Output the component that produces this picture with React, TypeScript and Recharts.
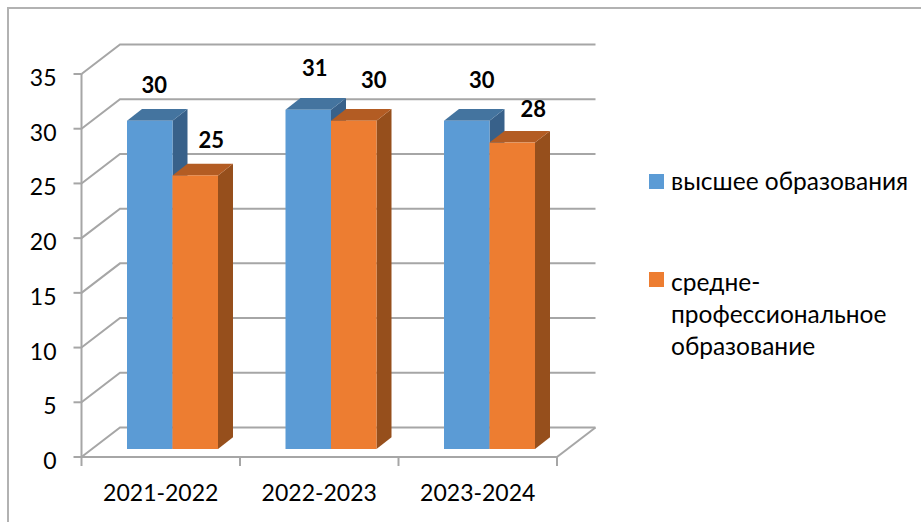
import React from 'react';
import { BarChart, Bar, XAxis, YAxis, CartesianGrid, Legend, LabelList } from 'recharts';

const years = ['2021-2022', '2022-2023', '2023-2024'];
const higherEd = [30, 31, 30];
const vocationalEd = [25, 30, 28];
const yTicks = [0, 5, 10, 15, 20, 25, 30, 35];

const data = years.map((year, i) => ({ year, higher: higherEd[i], vocational: vocationalEd[i] }));

const FONT = 'Lato, "Noto Sans", sans-serif';
const GREY = '#a6a6a6';

// fake 3d: how far the walls go back, and where the bars stand on the floor
const WALL_DX = 38.5;
const WALL_DY = 29.5;
const BAR_SHIFT_X = 11.5;
const BAR_SHIFT_Y = -8;
const BAR_DX = 15;
const BAR_DY = 11.7;

// labels in the original are not centred on the bars
const higherLabelNudge = [[4.5, 36], [6.5, 42], [15, 41]];
const vocationalLabelNudge = [[16, 36], [20, 41], [21, 34]];

const makeBar = (front: string, top: string, side: string) => (props: any) => {
  const x = props.x + BAR_SHIFT_X;
  const y = props.y + BAR_SHIFT_Y;
  const { width, height } = props;
  const r = x + width;
  const b = y + height;
  return (
    <g>
      <polygon points={`${r},${y} ${r + BAR_DX},${y - BAR_DY} ${r + BAR_DX},${b - BAR_DY} ${r},${b}`} fill={side} />
      <polygon points={`${x},${y} ${x + BAR_DX},${y - BAR_DY} ${r + BAR_DX},${y - BAR_DY} ${r},${y}`} fill={top} />
      <rect x={x} y={y} width={width} height={height} fill={front} />
    </g>
  );
};

const makeLabel = (nudge: number[][]) => (props: any) => {
  const { x, y, width, value, index } = props;
  const [dx, rise] = nudge[index];
  return (
    <text
      x={x + BAR_SHIFT_X + width / 2 + dx}
      y={y + BAR_SHIFT_Y - rise}
      textAnchor="middle"
      dominantBaseline="central"
      fontFamily={FONT}
      fontWeight={700}
      fontSize={22}
      fill="#000"
    >
      {value}
    </text>
  );
};

const WallLine = (props: any) => {
  const { x1, x2, y1 } = props;
  const isFloor = y1 > 450;
  return (
    <g fill="none" stroke={GREY} strokeWidth={2}>
      <polyline points={`${x1},${y1} ${x1 + WALL_DX},${y1 - WALL_DY} ${x2 + WALL_DX},${y1 - WALL_DY}`} />
      {isFloor && <line x1={x2} y1={y1} x2={x2 + WALL_DX} y2={y1 - WALL_DY} />}
    </g>
  );
};

const YearTick = (props: any) => {
  const { x, y, payload, index, width } = props;
  const band = width / years.length;
  const left = x - band / 2;
  return (
    <g>
      <line x1={left} y1={457} x2={left} y2={466} stroke={GREY} strokeWidth={2} />
      {index === years.length - 1 && (
        <line x1={left + band} y1={457} x2={left + band} y2={466} stroke={GREY} strokeWidth={2} />
      )}
      <text x={x} y={501} textAnchor="middle" fontFamily={FONT} fontSize={23} fill="#000">
        {payload.value}
      </text>
    </g>
  );
};

const ValueTick = (props: any) => (
  <text x={props.x} y={props.y + 3} textAnchor="end" dominantBaseline="central" fontFamily={FONT} fontSize={23} fill="#000">
    {props.payload.value}
  </text>
);

const LegendBox = (props: any) => (
  <div style={{ fontFamily: FONT, fontSize: 24.5, lineHeight: '32px', color: '#000' }}>
    {props.payload.map((entry: any, i: number) => (
      <div key={entry.value} style={{ position: 'relative', paddingLeft: 22, marginBottom: i === 0 ? 69 : 0 }}>
        <span style={{ position: 'absolute', left: 0, top: i === 0 ? 9 : 6, width: 15, height: 15, background: entry.color }} />
        {entry.value}
      </div>
    ))}
  </div>
);

export default function App() {
  return (
    <div style={{ position: 'absolute', left: 0, top: 0, width: 921, height: 522, overflow: 'hidden', background: '#fff' }}>
      <div style={{ position: 'absolute', left: 7, top: 7, right: 0, bottom: 0, borderLeft: '2px solid #b2b2b2', borderTop: '2px solid #b2b2b2' }} />
      <div style={{ position: 'absolute', left: 0, top: 0 }}>
        <BarChart
          width={921}
          height={522}
          data={data}
          barSize={45.5}
          barGap={0}
          margin={{ top: 74, right: 364, bottom: 0, left: 0 }}
        >
          <CartesianGrid vertical={false} horizontal={(p: any) => <WallLine key={p.key ?? p.y1} {...p} />} />
          <XAxis
            dataKey="year"
            axisLine={{ stroke: GREY, strokeWidth: 2 }}
            tickLine={false}
            tick={YearTick}
            interval={0}
            height={65}
          />
          <YAxis
            domain={[0, 35]}
            ticks={yTicks}
            width={81.5}
            axisLine={{ stroke: GREY, strokeWidth: 2 }}
            tickLine={{ stroke: GREY, strokeWidth: 2 }}
            tickSize={8}
            tickMargin={17}
            interval={0}
            tick={ValueTick}
          />
          <Legend
            layout="vertical"
            align="center"
            verticalAlign="middle"
            content={LegendBox}
            wrapperStyle={{ left: 649, top: 165, width: 265, height: 'auto', transform: 'none' }}
          />
          <Bar
            dataKey="higher"
            name="высшее образования"
            fill="#5b9bd5"
            isAnimationActive={false}
            shape={makeBar('#5b9bd5', '#44749f', '#38618a')}
          >
            <LabelList dataKey="higher" content={makeLabel(higherLabelNudge)} />
          </Bar>
          <Bar
            dataKey="vocational"
            name="средне-профессиональное образование"
            fill="#ed7d31"
            isAnimationActive={false}
            shape={makeBar('#ed7d31', '#b35c23', '#964f1c')}
          >
            <LabelList dataKey="vocational" content={makeLabel(vocationalLabelNudge)} />
          </Bar>
        </BarChart>
      </div>
    </div>
  );
}
